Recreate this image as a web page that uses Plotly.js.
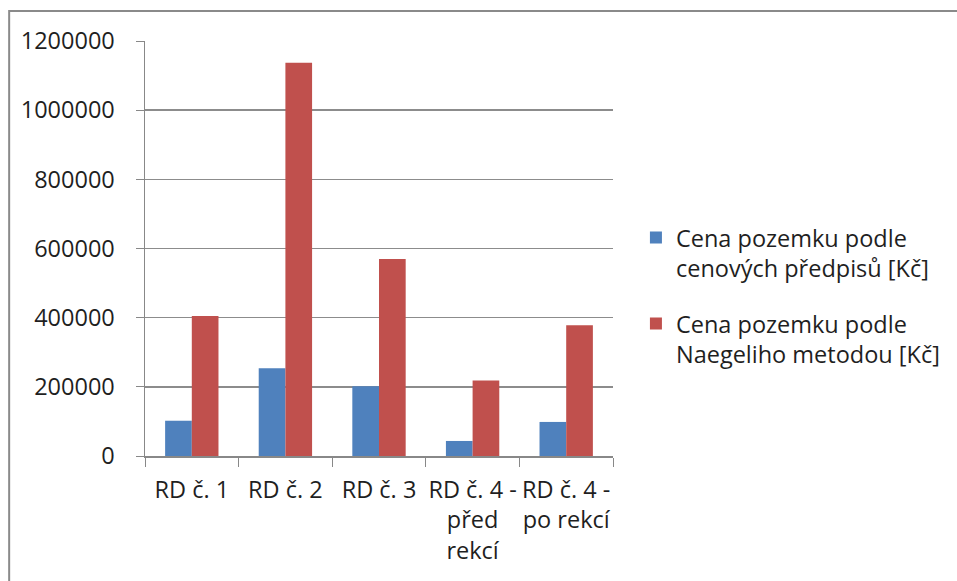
<!DOCTYPE html>
<html>
<head>
<meta charset="utf-8">
<script src="https://cdn.plot.ly/plotly-3.0.1.min.js"></script>
<style>html,body{margin:0;padding:0;background:#fff;}#chart{width:957px;height:581px;}</style>
</head>
<body>
<div id="chart"></div>
<script>
const categories = ["RD č. 1<br> ", "RD č. 2", "RD č. 3", "RD č. 4 -<br>před<br>rekcí", "RD č. 4 -<br>po rekcí"];
const seriesNames = ["Cena pozemku podle<br>cenových předpisů [Kč]", "Cena pozemku podle<br>Naegeliho metodou [Kč]"];
const cenovePredpisy = [102000, 254000, 202000, 43500, 98500];
const naegeli = [405000, 1137000, 570000, 218000, 378000];
const yTicks = [0, 200000, 400000, 600000, 800000, 1000000, 1200000];
const yTickLabels = ["0", "200000", "400000", "600000", "800000", "1000000", "1200000"];

const font = {family: "Open Sans, Liberation Sans, sans-serif", size: 23.5, color: "#1f1f1f"};

const traces = [
  {type: "bar", x: categories, y: cenovePredpisy, name: seriesNames[0], legendgroup: "a", marker: {color: "#4F81BD"}},
  {type: "bar", x: categories, y: naegeli, name: seriesNames[1], legendgroup: "b", marker: {color: "#C0504D"}}
];

const layout = {
  width: 957, height: 581,
  margin: {l: 145, r: 340, t: 41, b: 125, pad: 0},
  paper_bgcolor: "#fff", plot_bgcolor: "#fff",
  font: font,
  barmode: "group", bargap: 0.43, bargroupgap: 0,
  showlegend: true,
  legend: {x: 1.049, xanchor: "left", y: 0.385, yanchor: "middle", valign: "top", font: font,
           tracegroupgap: 22, bgcolor: "rgba(0,0,0,0)"},
  xaxis: {
    type: "category", tickson: "boundaries", ticks: "outside", ticklen: 9, tickcolor: "#888",
    showline: true, linecolor: "#888", linewidth: 1.5, showgrid: false, tickfont: font, tickangle: 0,
    ticklabelstandoff: 12, automargin: false
  },
  yaxis: {
    range: [0, 1200000], tickvals: yTicks, ticktext: yTickLabels, ticks: "outside", ticklen: 8, tickcolor: "#888",
    showline: true, linecolor: "#888", linewidth: 1.5, showgrid: true, gridcolor: "#8c8c8c", gridwidth: 1.5,
    zeroline: false, tickfont: font, ticklabelstandoff: 16, automargin: false
  },
  shapes: [
    {type: "rect", xref: "paper", yref: "paper", x0: (8 - 145) / 472, x1: 2, y0: -1, y1: (456 - 11) / 415,
     line: {color: "#8a8a8a", width: 2}, fillcolor: "rgba(0,0,0,0)", layer: "below"}
  ]
};

Plotly.newPlot("chart", traces, layout, {displayModeBar: false, staticPlot: true});
</script>
</body>
</html>
